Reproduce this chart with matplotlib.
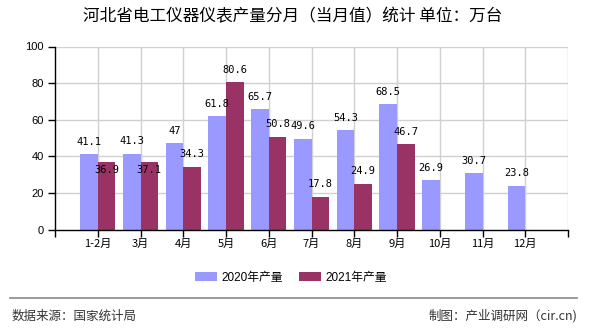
import matplotlib
matplotlib.use("Agg")
import matplotlib.pyplot as plt
from matplotlib.patches import Patch
from matplotlib.lines import Line2D

categories = ["1-2月", "3月", "4月", "5月", "6月", "7月", "8月", "9月", "10月", "11月", "12月"]
values_2020 = [41.1, 41.3, 47, 61.8, 65.7, 49.6, 54.3, 68.5, 26.9, 30.7, 23.8]
values_2021 = [36.9, 37.1, 34.3, 80.6, 50.8, 17.8, 24.9, 46.7, None, None, None]
series_names = ["2020年产量", "2021年产量"]
y_ticks = [0, 20, 40, 60, 80, 100]

title = "河北省电工仪器仪表产量分月（当月值）统计 单位：万台"
source_text = "数据来源：国家统计局"
credit_text = "制图：产业调研网（cir.cn)"

c2020 = "#9999FF"
c2021 = "#993366"
CJK = ["Noto Sans CJK SC", "DejaVu Sans"]
MIX = ["Liberation Sans", "Noto Sans CJK SC"]

W, H = 590, 330
fig = plt.figure(figsize=(W / 100, H / 100), dpi=100)
fig.patch.set_facecolor("white")

left, right, top, bottom = 55, 568, 46.5, 229.5
ax = fig.add_axes([left / W, 1 - bottom / H, (right - left) / W, (bottom - top) / H])

n = len(categories)
xs = list(range(1, n + 1))
bw = 0.41

ax.set_xlim(0, n + 1)
ax.set_ylim(0, 100)

# grid
for y in y_ticks[1:]:
    ax.axhline(y, color="#d0d0d0", lw=1, zorder=0)
for x in list(range(1, n + 2)):
    ax.axvline(x, color="#d0d0d0", lw=1, zorder=0)

for i, x in enumerate(xs):
    v0 = values_2020[i]
    v1 = values_2021[i]
    ax.bar(x - bw / 2, v0, width=bw, color=c2020, zorder=2)
    ax.annotate(f"{v0:g}", (x - bw / 2, v0), xytext=(0, 9), textcoords="offset points",
                ha="center", va="center", fontsize=7.5, family="DejaVu Sans Mono", zorder=3)
    if v1 is not None:
        ax.bar(x + bw / 2, v1, width=bw, color=c2021, zorder=2)
        off = 9
        if 0 < v0 - v1 < 6:
            off = -6
        ax.annotate(f"{v1:g}", (x + bw / 2, v1), xytext=(0, off), textcoords="offset points",
                    ha="center", va="center", fontsize=7.5, family="DejaVu Sans Mono", zorder=3)

for s in ["top", "right"]:
    ax.spines[s].set_visible(False)
ax.spines["left"].set_color("black")
ax.spines["bottom"].set_color("black")
ax.spines["left"].set_linewidth(1)
ax.spines["bottom"].set_linewidth(1)

ax.set_yticks(y_ticks)
ax.set_yticklabels([str(v) for v in y_ticks], family="Liberation Sans", fontsize=8)
ax.set_xticks([0] + xs + [n + 1])
ax.set_xticklabels([""] + categories + [""], family=CJK, fontsize=8)
ax.tick_params(axis="both", direction="out", length=5, width=1, color="black", pad=3)
ax.tick_params(axis="x", pad=2)

# title
fig.text(293 / W, 1 - 17 / H, title, ha="center", va="center", fontsize=12, family=CJK, color="black")

# legend
handles = [Patch(facecolor=c2020, edgecolor="none"), Patch(facecolor=c2021, edgecolor="none")]
fig.legend(handles, series_names, loc="center", bbox_to_anchor=(291 / W, 1 - 277.5 / H), ncol=2,
           frameon=False, prop={"family": MIX, "size": 8.5}, handlelength=1.9, handleheight=0.76,
           handletextpad=0.35, columnspacing=1.35, borderaxespad=0, borderpad=0)

# separator line
fig.add_artist(Line2D([10 / W, 577 / W], [1 - 298.3 / H, 1 - 298.3 / H], color="#888888", lw=1.2,
                      transform=fig.transFigure))

fig.text(12 / W, 1 - 316 / H, source_text, ha="left", va="center", fontsize=9, family=CJK, color="#333333")
fig.text(577 / W, 1 - 316 / H, credit_text, ha="right", va="center", fontsize=9, family=CJK, color="#333333")

fig.savefig("out.png", dpi=100)
